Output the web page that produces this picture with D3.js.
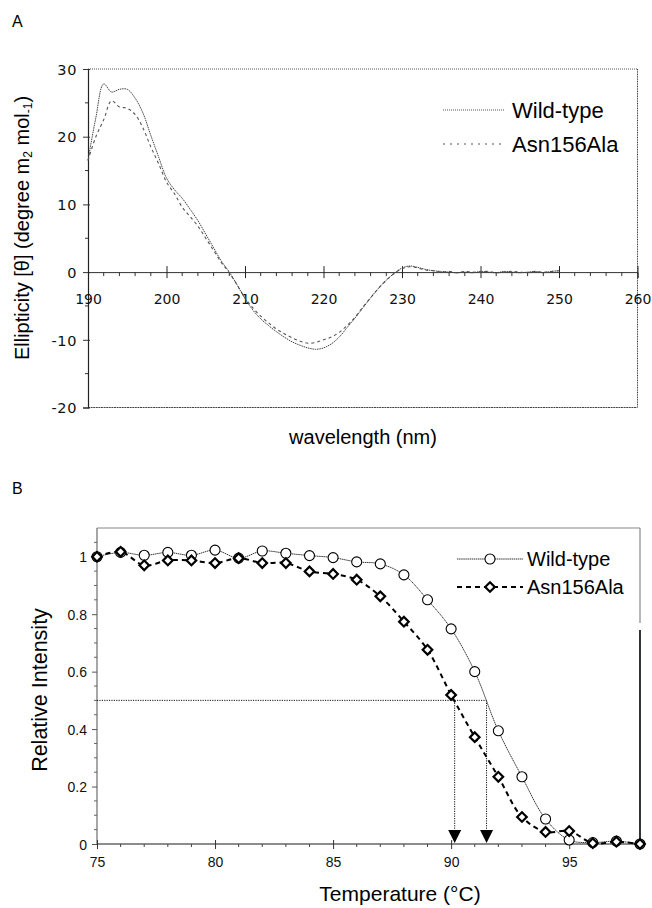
<!DOCTYPE html>
<html><head><meta charset="utf-8">
<script src="https://cdn.jsdelivr.net/npm/d3@7"></script>
<style>body{margin:0;background:#fff} svg{display:block}</style>
</head><body>
<svg id="c" width="652" height="908"></svg>
<script>
// ---------- Panel A data ----------
const wavelengths = [190,191,192,193,194,195,196,197,198,199,200,201,202,203,204,205,206,207,208,209,210,211,212,213,214,215,216,217,218,219,220,221,222,223,224,225,226,227,228,229,230,231,232,233,234,235,236,237,238,239,240,241,242,243,244,245,246,247,248,249,250];
const wildTypeCD = [16.5,22.8,27.8,26.6,27.0,27.0,25.7,23.5,20.2,17.0,13.9,12.2,10.9,9.3,7.6,5.6,3.6,1.6,0.0,-1.9,-3.9,-5.6,-6.9,-7.9,-8.8,-9.6,-10.3,-10.8,-11.2,-11.4,-11.2,-10.6,-9.6,-8.2,-6.8,-5.3,-3.8,-2.4,-1.2,-0.2,0.6,0.9,0.7,0.4,0.2,0.1,0.0,-0.1,0.0,-0.1,0.1,0.0,-0.1,0.1,0.0,-0.1,0.0,0.1,-0.1,0.1,0.2];
const mutantCD = [16.5,20.0,22.5,25.3,24.4,24.2,23.3,21.3,18.5,16.0,13.3,11.6,9.6,8.2,6.8,5.0,3.2,1.4,-0.1,-1.9,-3.8,-5.3,-6.5,-7.5,-8.4,-9.1,-9.7,-10.2,-10.5,-10.4,-10.0,-9.6,-8.9,-7.9,-6.7,-5.2,-3.8,-2.4,-1.2,-0.2,0.5,0.8,0.6,0.3,0.2,0.0,0.1,-0.1,0.1,0.0,0.0,0.1,-0.1,0.0,0.1,0.0,-0.1,0.1,0.0,0.1,0.2];
const xTicksA = [190,200,210,220,230,240,250,260];
const xMinorA = [192,194,196,198,202,204,206,208,212,214,216,218,222,224,226,228,232,234,236,238,242,244,246,248,252,254,256,258];
const yTicksA = [30,20,10,0,-10,-20];
const yTickLabelsA = ["30","20","10","0","-10","-20"];
const yMinorA = [25,15,5,-5,-15];
const seriesNames = ["Wild-type","Asn156Ala"];

// ---------- Panel B data ----------
const temps = [75,76,77,78,79,80,81,82,83,84,85,86,87,88,89,90,91,92,93,94,95,96,97,98];
const wildTypeRI = [1.0,1.015,1.005,1.015,1.005,1.023,0.995,1.02,1.012,1.004,0.997,0.982,0.975,0.937,0.85,0.749,0.6,0.394,0.234,0.087,0.014,0.005,0.01,0.0];
const mutantRI = [1.0,1.017,0.97,0.987,0.987,0.978,0.995,0.978,0.978,0.949,0.94,0.92,0.862,0.774,0.676,0.519,0.372,0.234,0.094,0.042,0.045,0.003,0.008,0.0];
const xTicksB = [75,80,85,90,95];
const xMinorB = [76,77,78,79,81,82,83,84,86,87,88,89,91,92,93,94,96,97,98];
const yTicksB = [0,0.2,0.4,0.6,0.8,1];
const yTickLabelsB = ["0","0.2","0.4","0.6","0.8","1"];
const yMinorB = [0.05,0.1,0.15,0.25,0.3,0.35,0.45,0.5,0.55,0.65,0.7,0.75,0.85,0.9,0.95,1.05];
const halfLevel = 0.5;
const tmValues = [90.15, 91.5];

const svg = d3.select("#c");
const sans = "'Liberation Sans', Arial, Helvetica, sans-serif";
const wide = "'DejaVu Sans', 'Liberation Sans', sans-serif";

// ================= Panel A =================
const xA = d3.scaleLinear().domain([190,260]).range([88,637.5]);
const yA = d3.scaleLinear().domain([-20,30]).range([407.5,69]);
const gA = svg.append("g");

svg.append("text").attr("x",12).attr("y",27).attr("font-family",sans).attr("font-size",16).text("A");

// frame (dotted top/right/bottom)
gA.append("line").attr("x1",xA(190)).attr("x2",xA(260)).attr("y1",yA(30)).attr("y2",yA(30))
  .attr("stroke","#555").attr("stroke-width",1).attr("stroke-dasharray","1,1");
gA.append("line").attr("x1",xA(260)).attr("x2",xA(260)).attr("y1",yA(30)).attr("y2",yA(-20))
  .attr("stroke","#333").attr("stroke-width",1).attr("stroke-dasharray","1,0.7");
gA.append("line").attr("x1",xA(190)).attr("x2",xA(260)).attr("y1",yA(-20)).attr("y2",yA(-20))
  .attr("stroke","#444").attr("stroke-width",1.2).attr("stroke-dasharray","2,0.6");

// y axis
const yAxisA = d3.axisLeft(yA).tickValues(yTicksA).tickSize(5).tickPadding(8).tickFormat((d,i)=>yTickLabelsA[i]);
const gyA = gA.append("g").attr("transform",`translate(${xA(190)},0)`).call(yAxisA);
gyA.select(".domain").attr("stroke","#222").attr("stroke-width",1.2);
gyA.selectAll(".tick line").attr("stroke","#333").attr("x2",-5).attr("x1",2);
gyA.selectAll(".tick text").attr("font-family",wide).attr("font-size",14.5).attr("fill","#111")
  .attr("letter-spacing","0.6px").attr("x",-11).attr("dy","0.36em");
gyA.selectAll(".minor").data(yMinorA).enter().append("line")
  .attr("x1",-3).attr("x2",0).attr("y1",d=>yA(d)).attr("y2",d=>yA(d)).attr("stroke","#333");

// x axis at y=0
const xAxisA = d3.axisBottom(xA).tickValues(xTicksA).tickSize(6).tickPadding(0).tickFormat(d3.format("d"));
const gxA = gA.append("g").attr("transform",`translate(0,${yA(0)})`).call(xAxisA);
gxA.select(".domain").attr("stroke","#333").attr("stroke-width",1);
gxA.selectAll(".tick line").attr("stroke","#222").attr("y1",-6).attr("y2",6);
gxA.selectAll(".tick text").attr("font-family",wide).attr("font-size",14).attr("fill","#111")
  .attr("y",32).attr("dy",0);
gxA.selectAll(".minor").data(xMinorA).enter().append("line")
  .attr("x1",d=>xA(d)).attr("x2",d=>xA(d)).attr("y1",0).attr("y2",4).attr("stroke","#333");

// curves
const lineA = d3.line().x((d,i)=>xA(wavelengths[i])).y(d=>yA(d)).curve(d3.curveCatmullRom);
gA.append("path").datum(mutantCD).attr("d",lineA).attr("fill","none")
  .attr("stroke","#555").attr("stroke-width",1.1).attr("stroke-dasharray","3,3");
gA.append("path").datum(wildTypeCD).attr("d",lineA).attr("fill","none")
  .attr("stroke","#444").attr("stroke-width",1).attr("stroke-dasharray","1.5,0.8");

// legend A
const legA = gA.append("g");
legA.append("line").attr("x1",443).attr("x2",505).attr("y1",110).attr("y2",110)
  .attr("stroke","#555").attr("stroke-width",1).attr("stroke-dasharray","1,1");
legA.append("line").attr("x1",443).attr("x2",505).attr("y1",144).attr("y2",144)
  .attr("stroke","#555").attr("stroke-width",1).attr("stroke-dasharray","2,5");
legA.append("text").attr("x",512).attr("y",118).attr("font-family",sans).attr("font-size",22).text(seriesNames[0]);
legA.append("text").attr("x",512).attr("y",152).attr("font-family",sans).attr("font-size",22).text(seriesNames[1]);

// axis titles A
svg.append("text").attr("x",363).attr("y",444).attr("text-anchor","middle")
  .attr("font-family",sans).attr("font-size",20).text("wavelength (nm)");
const yl = svg.append("text").attr("transform","translate(29,228) rotate(-90)").attr("text-anchor","middle")
  .attr("font-family",sans).attr("font-size",20);
yl.append("tspan").text("Ellipticity [θ] (degree m");
yl.append("tspan").attr("font-size",12).attr("dy",3).text("2");
yl.append("tspan").attr("dy",-3).text(" mol");
yl.append("tspan").attr("font-size",12).attr("dy",3).text("-1");
yl.append("tspan").attr("dy",-3).text(")");

// ================= Panel B =================
const xB = d3.scaleLinear().domain([75,98]).range([97,640]);
const yB = d3.scaleLinear().domain([0,1.1]).range([844,528]);
const gB = svg.append("g");

svg.append("text").attr("x",12).attr("y",494).attr("font-family",sans).attr("font-size",16).text("B");

// frame
gB.append("line").attr("x1",xB(75)).attr("x2",xB(98)).attr("y1",yB(1.1)).attr("y2",yB(1.1))
  .attr("stroke","#888").attr("stroke-width",1.2);
gB.append("line").attr("x1",xB(98)).attr("x2",xB(98)).attr("y1",yB(1.1)).attr("y2",623)
  .attr("stroke","#888").attr("stroke-width",1.2);
gB.append("line").attr("x1",xB(98)).attr("x2",xB(98)).attr("y1",630).attr("y2",yB(0))
  .attr("stroke","#000").attr("stroke-width",1.6);

// y axis
const yAxisB = d3.axisLeft(yB).tickValues(yTicksB).tickSize(5).tickPadding(6)
  .tickFormat((d,i)=>yTickLabelsB[i]);
const gyB = gB.append("g").attr("transform",`translate(${xB(75)},0)`).call(yAxisB);
gyB.select(".domain").attr("stroke","#777").attr("stroke-width",1.3).attr("d",`M0,${yB(1.1)}V${yB(0)}`);
gyB.selectAll(".tick line").attr("stroke","#555").attr("x2",-5);
gyB.selectAll(".tick text").attr("font-family",sans).attr("font-size",14).attr("fill","#111")
  .attr("x",-10).attr("dy","0.36em");
gyB.selectAll(".minor").data(yMinorB).enter().append("line")
  .attr("x1",-3).attr("x2",0).attr("y1",d=>yB(d)).attr("y2",d=>yB(d)).attr("stroke","#666");

// x axis
const xAxisB = d3.axisBottom(xB).tickValues(xTicksB).tickSize(5).tickPadding(0).tickFormat(d3.format("d"));
const gxB = gB.append("g").attr("transform",`translate(0,${yB(0)})`).call(xAxisB);
gxB.select(".domain").attr("stroke","#666").attr("stroke-width",1.3).attr("d",`M${xB(75)},0H${xB(98)}`);
gxB.selectAll(".tick line").attr("stroke","#333").attr("y1",-4).attr("y2",5);
gxB.selectAll(".tick text").attr("font-family",sans).attr("font-size",14).attr("fill","#111")
  .attr("y",23).attr("dy",0);
gxB.selectAll(".minor").data(xMinorB).enter().append("line")
  .attr("x1",d=>xB(d)).attr("x2",d=>xB(d)).attr("y1",0).attr("y2",3).attr("stroke","#444");

// half-level reference lines + arrows
gB.append("line").attr("x1",xB(75)).attr("x2",xB(tmValues[1])).attr("y1",yB(halfLevel)).attr("y2",yB(halfLevel))
  .attr("stroke","#111").attr("stroke-width",1).attr("stroke-dasharray","1.2,1.2");
tmValues.forEach(t=>{
  const x = xB(t), y0 = yB(0);
  gB.append("line").attr("x1",x).attr("x2",x).attr("y1",yB(halfLevel)).attr("y2",y0-12)
    .attr("stroke","#111").attr("stroke-width",1).attr("stroke-dasharray","1.2,1.2");
  gB.append("path").attr("d",`M${x-6.5},${y0-14}L${x+6.5},${y0-14}L${x},${y0-1}Z`).attr("fill","#000");
});

// series
const lineB = d3.line().x((d,i)=>xB(temps[i])).y(d=>yB(d)).curve(d3.curveCatmullRom);
gB.append("path").datum(wildTypeRI).attr("d",lineB).attr("fill","none")
  .attr("stroke","#333").attr("stroke-width",1).attr("stroke-dasharray","1.5,0.6");
gB.append("path").datum(mutantRI).attr("d",lineB).attr("fill","none")
  .attr("stroke","#000").attr("stroke-width",2).attr("stroke-dasharray","5,4");

gB.selectAll(".wt").data(wildTypeRI).enter().append("circle")
  .attr("cx",(d,i)=>xB(temps[i])).attr("cy",d=>yB(d)).attr("r",5)
  .attr("fill","#fff").attr("stroke","#000").attr("stroke-width",1.1);
const diamond = d3.symbol().type(d3.symbolSquare).size(46);
gB.selectAll(".mu").data(mutantRI).enter().append("path")
  .attr("d",diamond)
  .attr("transform",(d,i)=>`translate(${xB(temps[i])},${yB(d)}) rotate(45)`)
  .attr("fill","#fff").attr("stroke","#000").attr("stroke-width",2.2);

// legend B
const legB = gB.append("g");
legB.append("line").attr("x1",457).attr("x2",523).attr("y1",559).attr("y2",559)
  .attr("stroke","#333").attr("stroke-width",1).attr("stroke-dasharray","1.5,0.6");
legB.append("circle").attr("cx",490).attr("cy",559).attr("r",5).attr("fill","#fff").attr("stroke","#000").attr("stroke-width",1.1);
legB.append("line").attr("x1",457).attr("x2",523).attr("y1",587).attr("y2",587)
  .attr("stroke","#000").attr("stroke-width",2).attr("stroke-dasharray","5,4");
legB.append("path").attr("d",diamond).attr("transform","translate(490,587) rotate(45)")
  .attr("fill","#fff").attr("stroke","#000").attr("stroke-width",2.2);
legB.append("text").attr("x",527).attr("y",566).attr("font-family",sans).attr("font-size",20).text(seriesNames[0]);
legB.append("text").attr("x",527).attr("y",594).attr("font-family",sans).attr("font-size",20).text(seriesNames[1]);

// axis titles B
svg.append("text").attr("x",400).attr("y",901).attr("text-anchor","middle")
  .attr("font-family",sans).attr("font-size",21).text("Temperature (°C)");
svg.append("text").attr("transform","translate(47,690) rotate(-90)").attr("text-anchor","middle")
  .attr("font-family",sans).attr("font-size",21.5).text("Relative Intensity");
</script>
</body></html>
